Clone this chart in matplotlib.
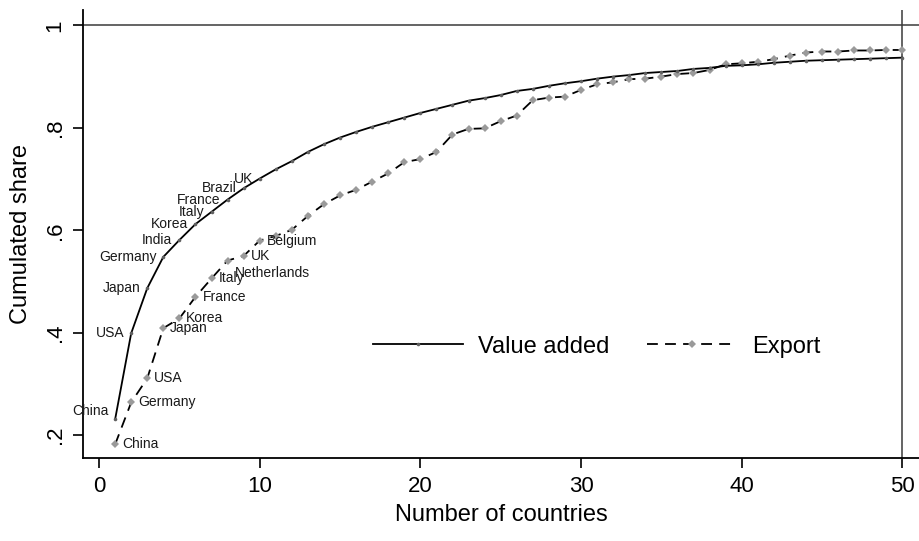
import matplotlib
matplotlib.use('Agg')
import matplotlib.pyplot as plt

plt.rcParams['font.family'] = ['Liberation Sans', 'DejaVu Sans']

# data
n_countries = list(range(1, 51))
value_added = [0.231, 0.399, 0.487, 0.548, 0.581, 0.612, 0.636, 0.660, 0.682, 0.701,
               0.719, 0.735, 0.753, 0.768, 0.781, 0.792, 0.802, 0.811, 0.820, 0.829,
               0.837, 0.845, 0.853, 0.858, 0.864, 0.872, 0.876, 0.882, 0.887, 0.891,
               0.896, 0.900, 0.903, 0.907, 0.909, 0.911, 0.915, 0.917, 0.921, 0.922,
               0.924, 0.927, 0.929, 0.931, 0.932, 0.933, 0.934, 0.935, 0.936, 0.937]
export = [0.182, 0.264, 0.311, 0.409, 0.428, 0.470, 0.506, 0.541, 0.550, 0.580,
          0.589, 0.601, 0.628, 0.651, 0.668, 0.679, 0.695, 0.711, 0.733, 0.739,
          0.753, 0.787, 0.798, 0.799, 0.813, 0.824, 0.854, 0.859, 0.861, 0.874,
          0.885, 0.889, 0.895, 0.896, 0.900, 0.905, 0.907, 0.913, 0.924, 0.926,
          0.929, 0.934, 0.941, 0.947, 0.949, 0.949, 0.951, 0.951, 0.952, 0.952]
va_labels = ['China', 'USA', 'Japan', 'Germany', 'India',
             'Korea', 'Italy', 'France', 'Brazil', 'UK']
ex_labels = ['China', 'Germany', 'USA', 'Japan', 'Korea',
             'France', 'Italy', 'Netherlands', 'UK', 'Belgium']
y_ticks = [0.2, 0.4, 0.6, 0.8, 1.0]
y_ticklabels = ['.2', '.4', '.6', '.8', '1']
x_ticks = [0, 10, 20, 30, 40, 50]

fig = plt.figure(figsize=(9.2, 5.41), dpi=100)
ax = fig.add_axes([0.0902, 0.1529, 0.9098, 0.8286])

# reference lines
ax.axhline(1, color='#3a3a3a', lw=1.1, zorder=1)
ax.axvline(50, color='#3a3a3a', lw=1.1, zorder=1)

ax.plot(n_countries, value_added, color='black', lw=1.3, marker='o', ms=2.6,
        mfc='#606060', mec='#606060', mew=0, label='Value added', zorder=3)
ax.plot(n_countries, export, color='black', lw=1.3, ls=(0, (6, 4)), marker='D', ms=3.6,
        mfc='#9a9a9a', mec='#9a9a9a', mew=0, label='Export', zorder=2)

# country labels (value added: left of point, export: right of point)
va_dy = {0: 6}
for i, name in enumerate(va_labels):
    ax.annotate(name, (n_countries[i], value_added[i]), xytext=(-5, va_dy.get(i, 0)),
                textcoords='offset points', ha='right', va='center', fontsize=10, color='#1a1a1a')
ex_dy = {7: -9}
for i, name in enumerate(ex_labels):
    ax.annotate(name, (n_countries[i], export[i]), xytext=(5, ex_dy.get(i, 0)),
                textcoords='offset points', ha='left', va='center', fontsize=10, color='#1a1a1a')

ax.set_xlim(-1.0, 51.1)
ax.set_ylim(0.155, 1.03)
ax.set_xticks(x_ticks)
ax.set_yticks(y_ticks)
ax.set_yticklabels(y_ticklabels, rotation=90, va='center')
ax.tick_params(axis='both', direction='out', length=7.5, width=1.2, labelsize=16, colors='black')
ax.tick_params(axis='x', pad=5)
ax.tick_params(axis='y', pad=5)
for s in ['top', 'right']:
    ax.spines[s].set_visible(False)
for s in ['left', 'bottom']:
    ax.spines[s].set_linewidth(1.3)

ax.set_xlabel('Number of countries', fontsize=17, labelpad=5)
ax.set_ylabel('Cumulated share', fontsize=17, labelpad=9)

ax.legend(loc='center', bbox_to_anchor=(0.614, 0.249), ncol=2, frameon=False, fontsize=17,
          handlelength=3.8, handletextpad=0.65, columnspacing=1.6, borderpad=0)

plt.savefig('out.png', dpi=100)
